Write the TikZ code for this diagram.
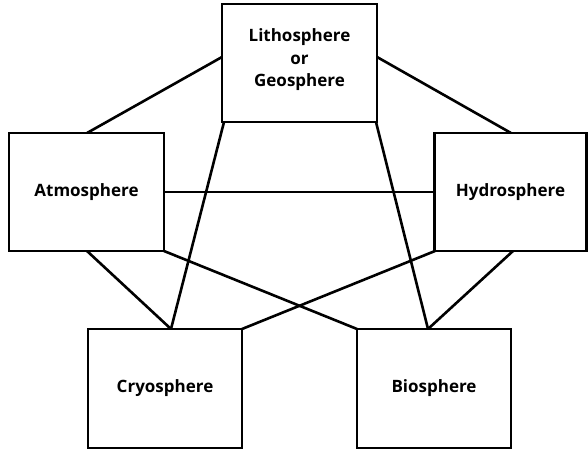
\documentclass[tikz,border=0pt]{standalone}
\usepackage{fontspec}
\setmainfont{Open Sans}
\begin{document}
\begin{tikzpicture}[x=1pt,y=-1pt,
  sphere/.style={draw=black, line width=2.6pt, fill=white, inner sep=0pt,
    font=\bfseries\fontsize{17}{22.5}\selectfont, align=center},
  link/.style={line width=2.6pt, line cap=round}]
\useasboundingbox (0,0) rectangle (588,450);
% links are drawn first so the boxes sit on top of them
\coordinate (LL) at (222,57);
\coordinate (LR) at (377,57);
\coordinate (LB1) at (224,122);
\coordinate (LB2) at (376,122);
\coordinate (AT) at (87,133);
\coordinate (AR) at (164,192);
\coordinate (AB1) at (87,251);
\coordinate (AB2) at (164,251);
\coordinate (HT) at (511,133);
\coordinate (HL) at (434,192);
\coordinate (HB1) at (435,251);
\coordinate (HB2) at (513,251);
\coordinate (CT1) at (171,329);
\coordinate (CT2) at (242,329);
\coordinate (BT1) at (357,329);
\coordinate (BT2) at (428,329);
\draw[link] (LL) -- (AT);
\draw[link] (LR) -- (HT);
\draw[link] (LB1) -- (CT1);
\draw[link] (LB2) -- (BT2);
\draw[link] (AR) -- (HL);
\draw[link] (AB1) -- (CT1);
\draw[link] (AB2) -- (BT1);
\draw[link] (HB1) -- (CT2);
\draw[link] (HB2) -- (BT2);
% the five spheres
\node[sphere, minimum width=155pt, minimum height=118pt] (litho) at (299.5,63) {};
\node[font=\bfseries\fontsize{17}{22.5}\selectfont, align=center, inner sep=0pt] (lithotext) at (299.5,60) {Lithosphere\\or\\Geosphere};
\node[sphere, minimum width=155pt, minimum height=118pt] (atmo) at (86.5,192) {Atmosphere};
\node[sphere, minimum width=152pt, minimum height=118pt] (hydro) at (510.5,192) {Hydrosphere};
\node[sphere, minimum width=154pt, minimum height=119pt] (cryo) at (165,388.5) {Cryosphere};
\node[sphere, minimum width=154pt, minimum height=119pt] (bio) at (434,388.5) {Biosphere};
\end{tikzpicture}
\end{document}
